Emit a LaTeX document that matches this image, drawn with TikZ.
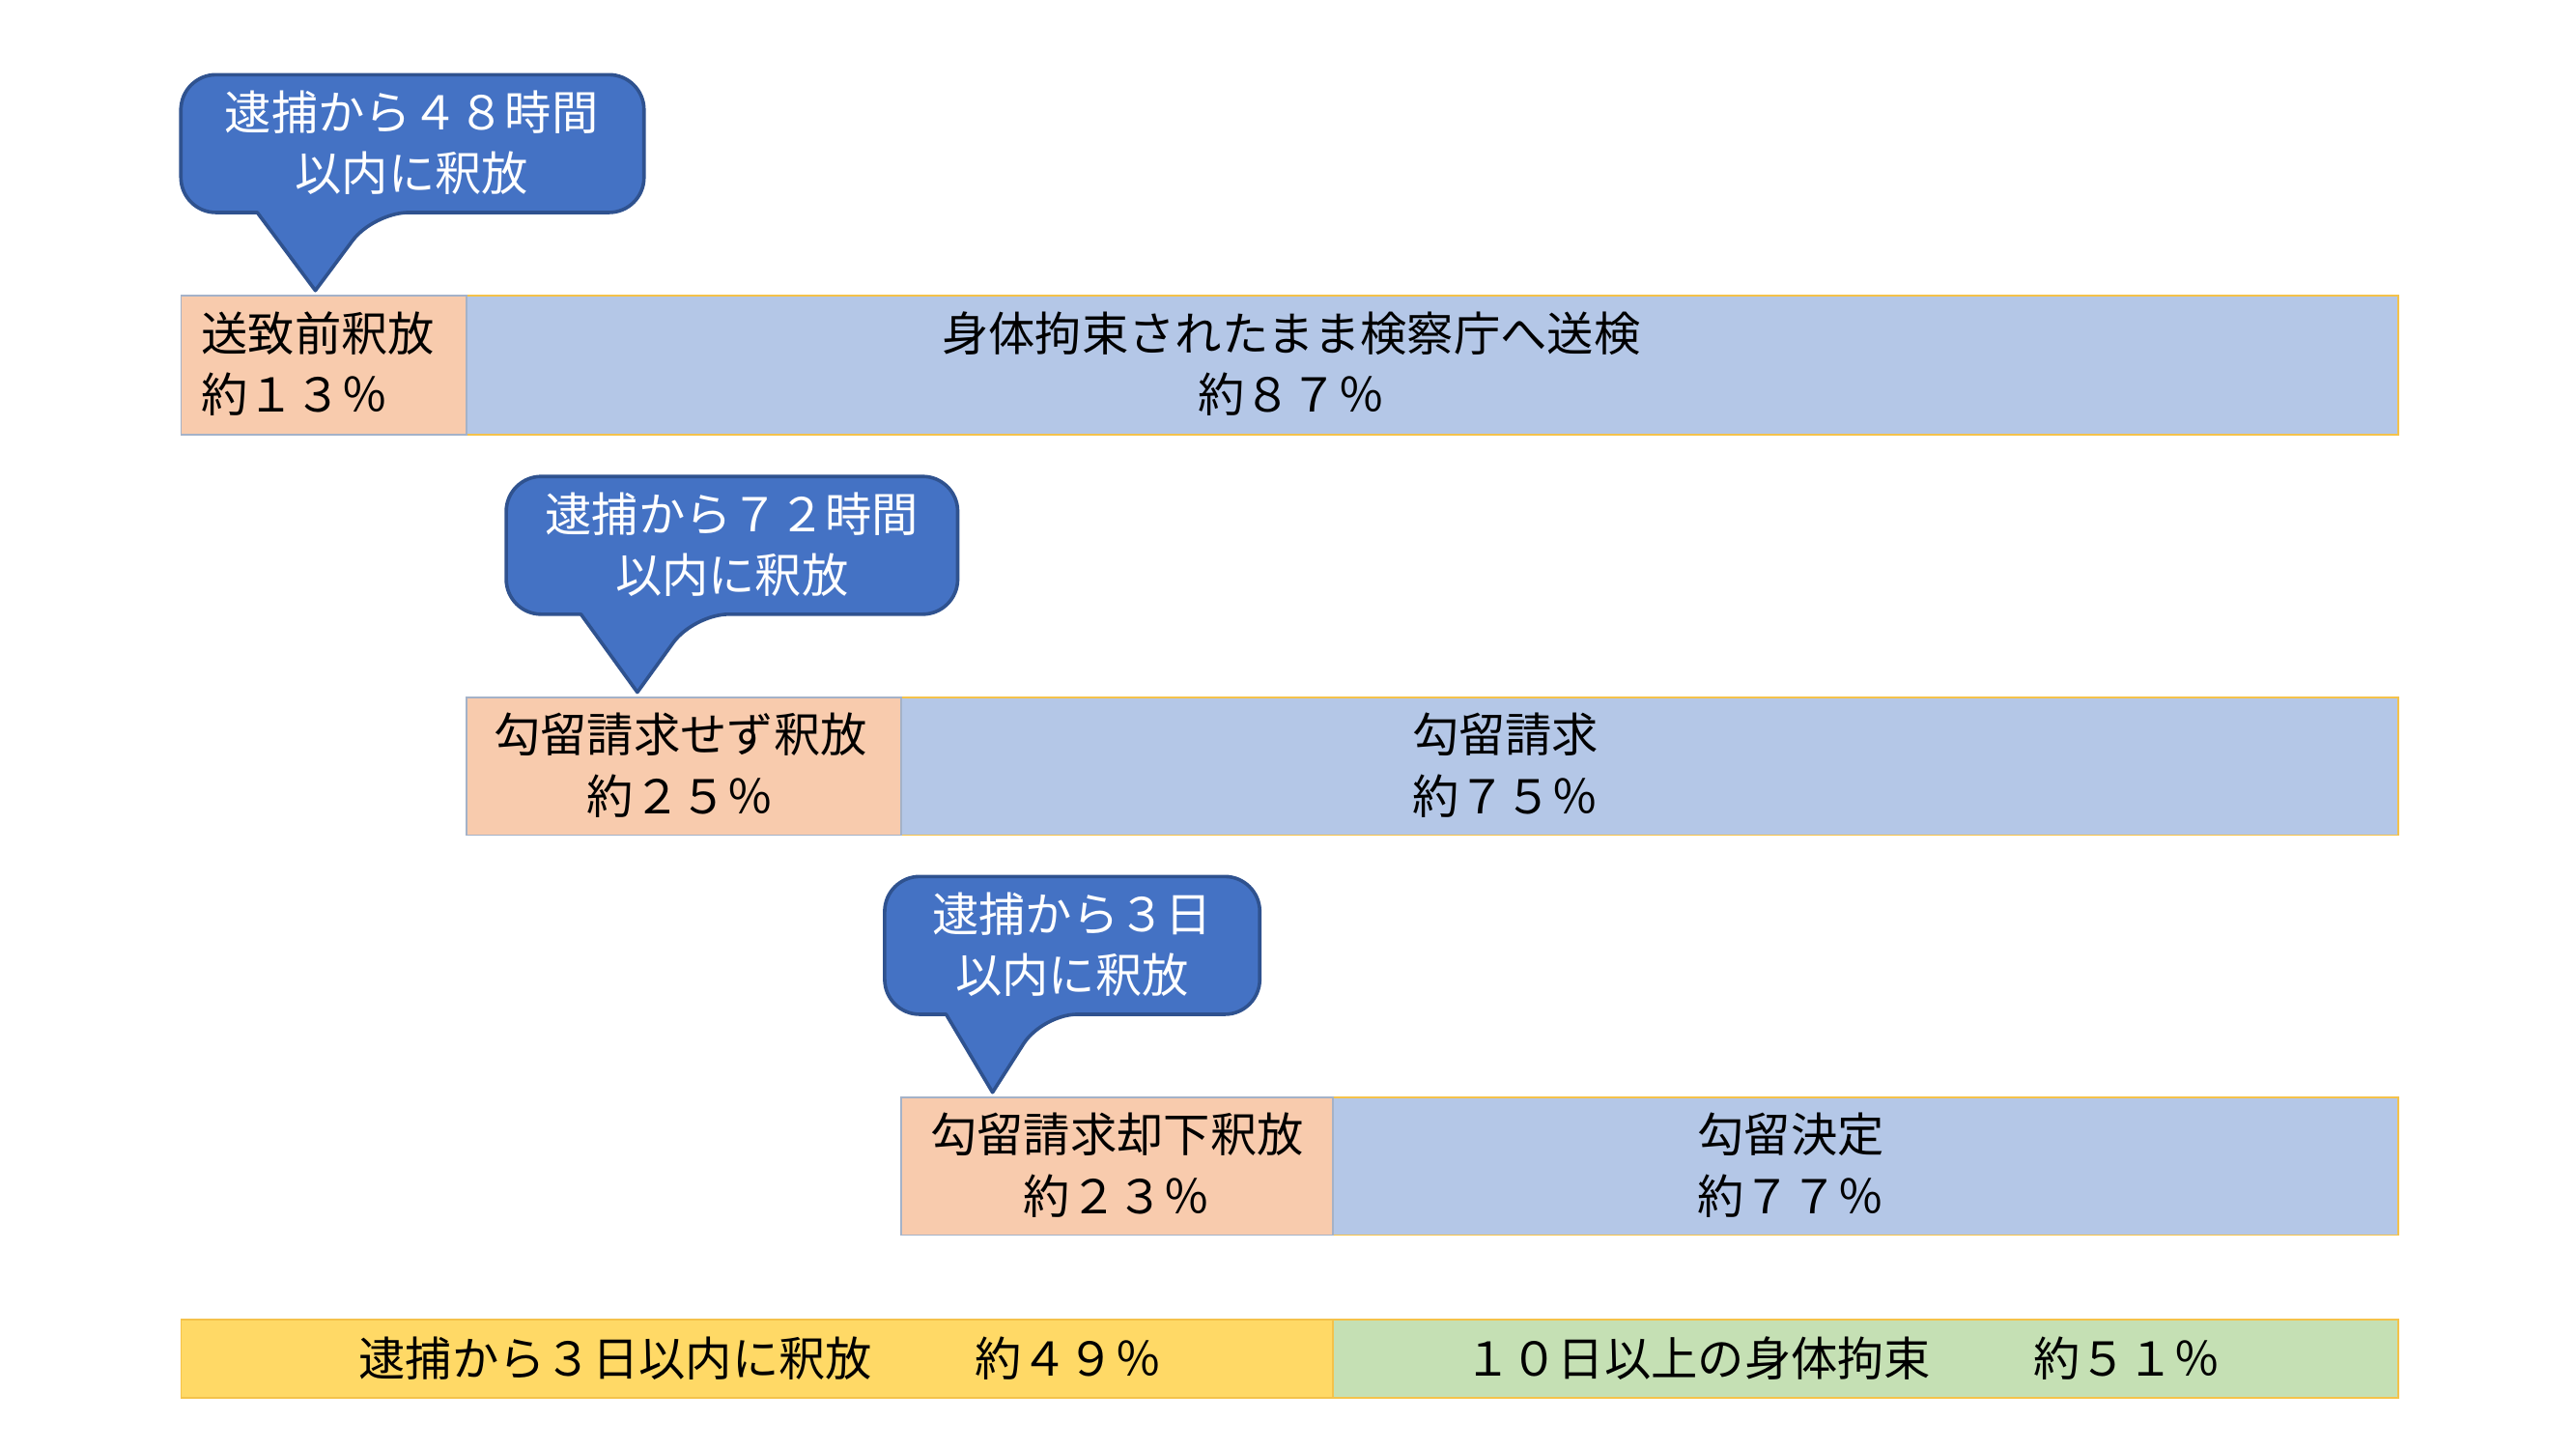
\documentclass[tikz,border=0pt]{standalone}
\usepackage{fontspec}
\setmainfont{Noto Sans CJK JP}
\definecolor{relorange}{HTML}{F8CBAD}
\definecolor{relblue}{HTML}{B4C7E7}
\definecolor{relyellow}{HTML}{FFD966}
\definecolor{relgreen}{HTML}{C5E0B4}
\definecolor{callfill}{HTML}{4472C4}
\definecolor{callline}{HTML}{2F528F}
\definecolor{barline}{HTML}{F4C24A}
\tikzset{
  txt/.style={font=\fontsize{16}{21}\selectfont,align=center,inner sep=0pt},
  calltxt/.style={txt,text=white},
  released/.style={fill=relorange,draw=relblue!70!gray,line width=.5pt},
  detained/.style={fill=relblue,draw=barline,line width=.5pt},
  callout/.style={fill=callfill,draw=callline,line width=1.2pt,line join=round}
}
\begin{document}
\begin{tikzpicture}[x=0.02cm,y=-0.02cm]
\useasboundingbox (0,0) rectangle (1552,873);

% callouts
\draw[callout,rounded corners=12] (109,86) -- (109,45) -- (388,45) -- (388,128) -- (225,128)
    [sharp corners] -- (190,175) -- (155,128) [rounded corners=12] -- (109,128) -- cycle;
\node[calltxt] (call48) at (248,86) {逮捕から４８時間\\以内に釈放};

\draw[callout,rounded corners=12] (305,328) -- (305,287) -- (577,287) -- (577,370) -- (418,370)
    [sharp corners] -- (384,417) -- (350,370) [rounded corners=12] -- (305,370) -- cycle;
\node[calltxt] (call72) at (441,328) {逮捕から７２時間\\以内に釈放};

\draw[callout,rounded corners=12] (533,569) -- (533,528) -- (759,528) -- (759,611) -- (628,611)
    [sharp corners] -- (598,658) -- (570,611) [rounded corners=12] -- (533,611) -- cycle;
\node[calltxt] (call3d) at (646,569) {逮捕から３日\\以内に釈放};

% row 1
\draw[detained] (281,178) rectangle (1445,262);
\draw[released] (109,178) rectangle (281,262);
\node[txt,align=left,anchor=west] (pre) at (121,219) {送致前釈放\\約１３％};
\node[txt] (sent) at (778,219) {身体拘束されたまま検察庁へ送検\\約８７％};

% row 2
\draw[detained] (543,420) rectangle (1445,503);
\draw[released] (281,420) rectangle (543,503);
\node[txt] (norequest) at (410,461) {勾留請求せず釈放\\約２５％};
\node[txt] (request) at (907,461) {勾留請求\\約７５％};

% row 3
\draw[detained] (803,661) rectangle (1445,744);
\draw[released] (543,661) rectangle (803,744);
\node[txt] (rejected) at (673,702) {勾留請求却下釈放\\約２３％};
\node[txt] (decided) at (1079,702) {勾留決定\\約７７％};

% summary
\draw[fill=relyellow,draw=barline,line width=.5pt] (109,795) rectangle (803,842);
\draw[fill=relgreen,draw=barline,line width=.5pt] (803,795) rectangle (1445,842);
\node[txt] (within3) at (458,818) {逮捕から３日以内に釈放\hspace{2.2em}約４９％};
\node[txt] (over10) at (1110,818) {１０日以上の身体拘束\hspace{2.2em}約５１％};
\end{tikzpicture}
\end{document}
